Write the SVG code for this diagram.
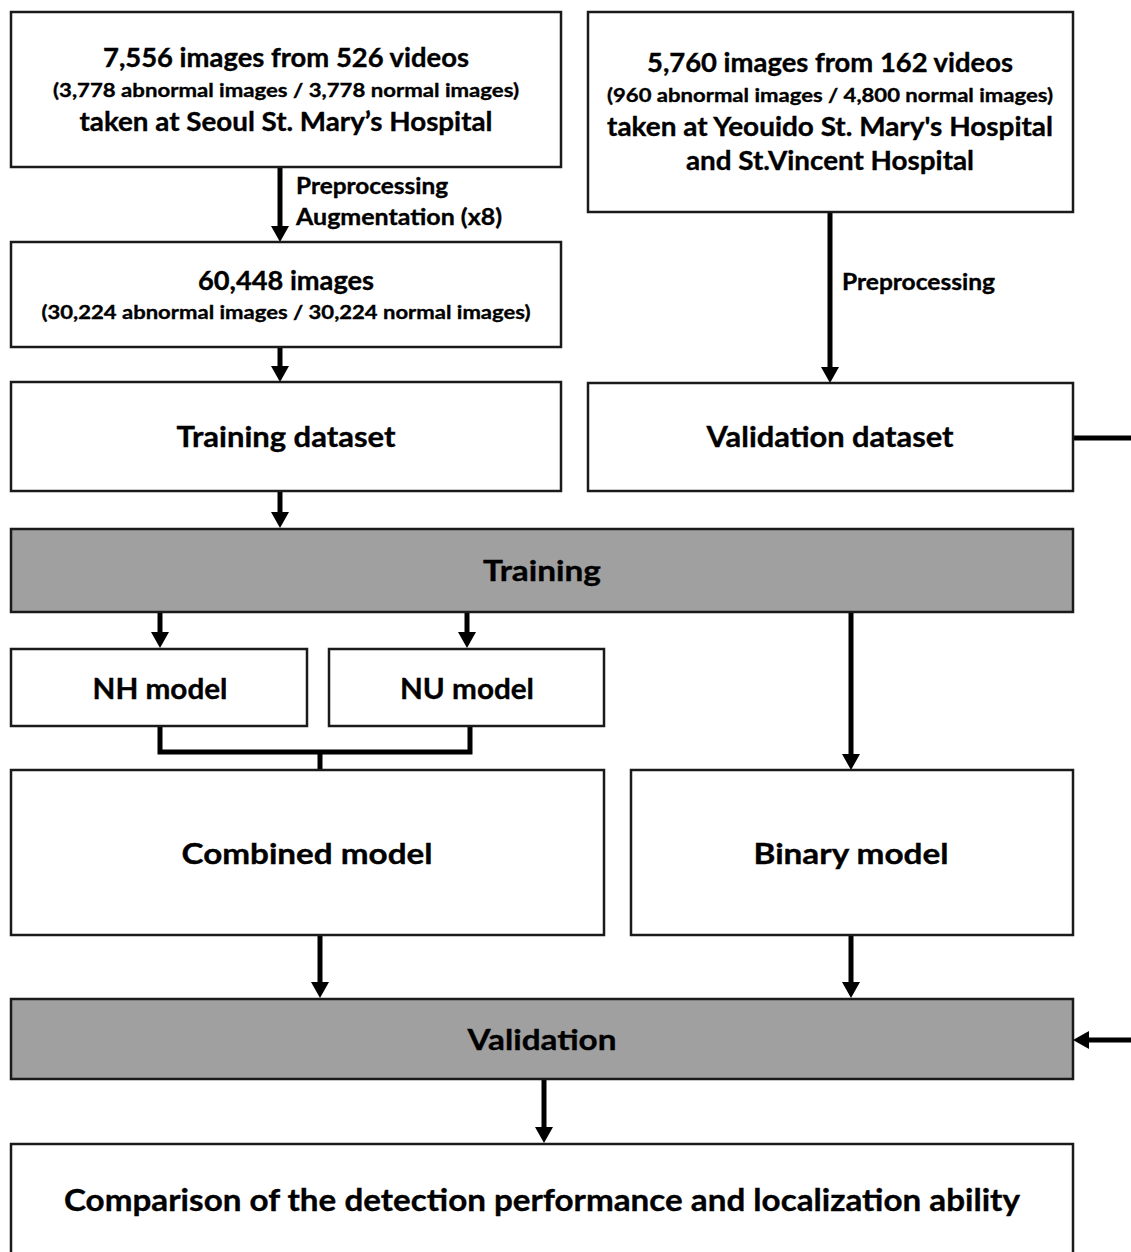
<svg xmlns="http://www.w3.org/2000/svg" width="1131" height="1252" viewBox="0 0 1131 1252">
<style>
  .box{fill:#fff;stroke:#1a1a1a;stroke-width:2.5}
  .bar{fill:#a0a0a0;stroke:#1a1a1a;stroke-width:2.5}
  text{font-family:Lato,"Open Sans","Liberation Sans",sans-serif;font-weight:700;fill:#000;text-anchor:middle;stroke:#000;stroke-width:0.35}
  .lbl{text-anchor:start;font-size:22px}
  .big{font-size:26px}
  .sm{font-size:19px}
  .xl{font-size:28px}
  .con{fill:none;stroke:#000;stroke-width:5}
</style>
<defs>
  <marker id="ah" viewBox="0 0 16 18" refX="3" refY="9" markerWidth="16" markerHeight="18" markerUnits="userSpaceOnUse" orient="auto">
    <path d="M0,0 L16,9 L0,18 z" fill="#000"/>
  </marker>
</defs>

<g id="connectors">
  <path class="con" d="M280,167 V229" marker-end="url(#ah)"/>
  <path class="con" d="M280,347 V369" marker-end="url(#ah)"/>
  <path class="con" d="M280,491 V515" marker-end="url(#ah)"/>
  <path class="con" d="M830,212 V370" marker-end="url(#ah)"/>
  <path class="con" d="M160,612 V635" marker-end="url(#ah)"/>
  <path class="con" d="M467,612 V635" marker-end="url(#ah)"/>
  <path class="con" d="M160,726 V752 H470 V726"/>
  <path class="con" d="M320,752 V770"/>
  <path class="con" d="M851,612 V757" marker-end="url(#ah)"/>
  <path class="con" d="M320,935 V985" marker-end="url(#ah)"/>
  <path class="con" d="M851,935 V985" marker-end="url(#ah)"/>
  <path class="con" d="M544,1079 V1130" marker-end="url(#ah)"/>
  <path class="con" d="M1073,438 H1145 V1040 H1086" marker-end="url(#ah)"/>
  <text class="lbl" x="296" y="194" textLength="152" lengthAdjust="spacingAndGlyphs">Preprocessing</text>
  <text class="lbl" x="296" y="225" textLength="206" lengthAdjust="spacingAndGlyphs">Augmentation  (x8)</text>
  <text class="lbl" x="842" y="290" textLength="153" lengthAdjust="spacingAndGlyphs">Preprocessing</text>
</g>

<g id="seoul">
  <rect class="box" x="11" y="12" width="550" height="155"/>
  <text class="big" x="286" y="67" textLength="366" lengthAdjust="spacingAndGlyphs">7,556 images from 526 videos</text>
  <text class="sm" x="286" y="97" textLength="466" lengthAdjust="spacingAndGlyphs">(3,778 abnormal images / 3,778 normal images)</text>
  <text class="big" x="286" y="131" textLength="413" lengthAdjust="spacingAndGlyphs">taken at Seoul St. Mary’s Hospital</text>
</g>

<g id="yeouido">
  <rect class="box" x="588" y="12" width="485" height="200"/>
  <text class="big" x="830" y="72" textLength="366" lengthAdjust="spacingAndGlyphs">5,760 images from 162 videos</text>
  <text class="sm" x="830" y="102" textLength="446" lengthAdjust="spacingAndGlyphs">(960 abnormal images / 4,800 normal images)</text>
  <text class="big" x="830" y="136" textLength="446" lengthAdjust="spacingAndGlyphs">taken at Yeouido St. Mary's Hospital</text>
  <text class="big" x="830" y="170" textLength="288" lengthAdjust="spacingAndGlyphs">and St.Vincent Hospital</text>
</g>

<g id="augmented">
  <rect class="box" x="11" y="242" width="550" height="105"/>
  <text class="big" x="286" y="290" textLength="176" lengthAdjust="spacingAndGlyphs">60,448 images</text>
  <text class="sm" x="286" y="319" textLength="489" lengthAdjust="spacingAndGlyphs">(30,224 abnormal images / 30,224 normal images)</text>
</g>

<g id="training-dataset">
  <rect class="box" x="11" y="382" width="550" height="109"/>
  <text class="xl" x="286" y="447" textLength="219" lengthAdjust="spacingAndGlyphs">Training dataset</text>
</g>

<g id="validation-dataset">
  <rect class="box" x="588" y="383" width="485" height="108"/>
  <text class="xl" x="830" y="447" textLength="247" lengthAdjust="spacingAndGlyphs">Validation dataset</text>
</g>

<g id="training">
  <rect class="bar" x="11" y="529" width="1062" height="83"/>
  <text class="xl" x="542" y="581" textLength="118" lengthAdjust="spacingAndGlyphs">Training</text>
</g>

<g id="nh-model">
  <rect class="box" x="11" y="649" width="296" height="77"/>
  <text class="xl" x="160" y="699" textLength="135" lengthAdjust="spacingAndGlyphs">NH model</text>
</g>

<g id="nu-model">
  <rect class="box" x="329" y="649" width="275" height="77"/>
  <text class="xl" x="467" y="699" textLength="134" lengthAdjust="spacingAndGlyphs">NU model</text>
</g>

<g id="combined-model">
  <rect class="box" x="11" y="770" width="593" height="165"/>
  <text class="xl" x="307" y="864" textLength="251" lengthAdjust="spacingAndGlyphs">Combined model</text>
</g>

<g id="binary-model">
  <rect class="box" x="631" y="770" width="442" height="165"/>
  <text class="xl" x="851" y="864" textLength="195" lengthAdjust="spacingAndGlyphs">Binary model</text>
</g>

<g id="validation">
  <rect class="bar" x="11" y="999" width="1062" height="80"/>
  <text class="xl" x="542" y="1050" textLength="149" lengthAdjust="spacingAndGlyphs">Validation</text>
</g>

<g id="comparison">
  <rect class="box" x="11" y="1144" width="1062" height="130"/>
  <text class="xl" x="542" y="1211" style="font-size:30px" textLength="956" lengthAdjust="spacingAndGlyphs">Comparison of the detection performance and localization ability</text>
</g>
</svg>
